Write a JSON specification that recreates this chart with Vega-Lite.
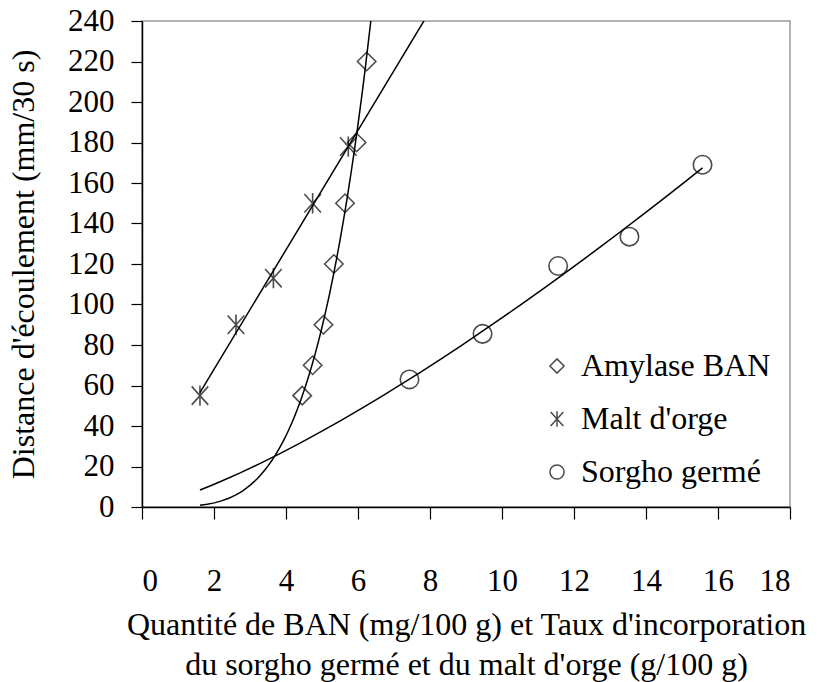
{
  "$schema": "https://vega.github.io/schema/vega-lite/v6.json",
  "width": 648,
  "height": 486,
  "autosize": {"type": "none"},
  "padding": {"left": 142, "top": 21, "right": 30, "bottom": 175},
  "background": "white",
  "config": {
    "view": {"stroke": "#999999", "strokeWidth": 1.5},
    "font": "Liberation Serif",
    "axis": {"labelFont": "Liberation Serif", "titleFont": "Liberation Serif", "labelColor": "black", "titleColor": "black", "domainColor": "black", "tickColor": "black", "grid": false, "titleFontWeight": "normal", "domainWidth": 1.5, "tickWidth": 1.2},
    "legend": {"labelFont": "Liberation Serif", "labelColor": "black"}
  },
  "data": {
    "values": [
      {"series": "Amylase BAN", "x": 4.45, "y": 55},
      {"series": "Amylase BAN", "x": 4.74, "y": 70},
      {"series": "Amylase BAN", "x": 5.04, "y": 90},
      {"series": "Amylase BAN", "x": 5.33, "y": 120},
      {"series": "Amylase BAN", "x": 5.64, "y": 150},
      {"series": "Amylase BAN", "x": 5.96, "y": 180},
      {"series": "Amylase BAN", "x": 6.24, "y": 220},
      {"series": "Malt d'orge", "x": 1.61, "y": 55},
      {"series": "Malt d'orge", "x": 2.61, "y": 90},
      {"series": "Malt d'orge", "x": 3.65, "y": 113},
      {"series": "Malt d'orge", "x": 4.74, "y": 150},
      {"series": "Malt d'orge", "x": 5.73, "y": 178},
      {"series": "Sorgho germé", "x": 7.43, "y": 63},
      {"series": "Sorgho germé", "x": 9.46, "y": 85.5},
      {"series": "Sorgho germé", "x": 11.56, "y": 119},
      {"series": "Sorgho germé", "x": 13.54, "y": 133.5},
      {"series": "Sorgho germé", "x": 15.57, "y": 169}
    ]
  },
  "encoding": {
    "x": {
      "field": "x", "type": "quantitative",
      "scale": {"domain": [0, 18], "nice": false},
      "axis": {
        "values": [0, 2, 4, 6, 8, 10, 12, 14, 16, 18],
        "tickSize": 12, "labelFontSize": 31, "labelPadding": 47,
        "title": ["Quantité de BAN (mg/100 g) et Taux d'incorporation", "du sorgho germé et du malt d'orge (g/100 g)"],
        "titleFontSize": 32, "titlePadding": 13, "titleLineHeight": 40
      }
    },
    "y": {
      "field": "y", "type": "quantitative",
      "scale": {"domain": [0, 240], "nice": false},
      "axis": {
        "values": [0, 20, 40, 60, 80, 100, 120, 140, 160, 180, 200, 220, 240],
        "tickSize": 11, "labelFontSize": 31, "labelPadding": 17,
        "title": "Distance d'écoulement (mm/30 s)",
        "titleFontSize": 32, "titlePadding": 27
      }
    }
  },
  "layer": [
    {
      "transform": [
        {"filter": "datum.series === 'Amylase BAN'"},
        {"regression": "y", "on": "x", "method": "pow", "extent": [1.61, 6.6]}
      ],
      "mark": {"type": "line", "color": "black", "strokeWidth": 1.5, "clip": true}
    },
    {
      "transform": [
        {"filter": "datum.series === \"Malt d'orge\""},
        {"regression": "y", "on": "x", "method": "linear", "extent": [1.61, 8.2]}
      ],
      "mark": {"type": "line", "color": "black", "strokeWidth": 1.5, "clip": true}
    },
    {
      "transform": [
        {"filter": "datum.series === 'Sorgho germé'"},
        {"regression": "y", "on": "x", "method": "pow", "extent": [1.61, 15.57]}
      ],
      "mark": {"type": "line", "color": "black", "strokeWidth": 1.5, "clip": true}
    },
    {
      "mark": {"type": "point", "filled": false, "color": "black", "strokeWidth": 1.6, "size": 340},
      "encoding": {
        "shape": {
          "field": "series", "type": "nominal",
          "scale": {
            "domain": ["Amylase BAN", "Malt d'orge", "Sorgho germé"],
            "range": ["diamond", "M-0.9,-1L0.9,1M-0.9,1L0.9,-1M0,-1.1L0,1.1", "circle"]
          },
          "legend": {
            "title": null, "orient": "bottom-right", "offset": 19,
            "labelFontSize": 32, "symbolSize": 200, "rowPadding": 21,
            "symbolStrokeWidth": 1.5, "symbolStrokeColor": "black", "symbolFillColor": "transparent",
            "labelLimit": 400, "labelOffset": 8
          }
        }
      }
    }
  ]
}
